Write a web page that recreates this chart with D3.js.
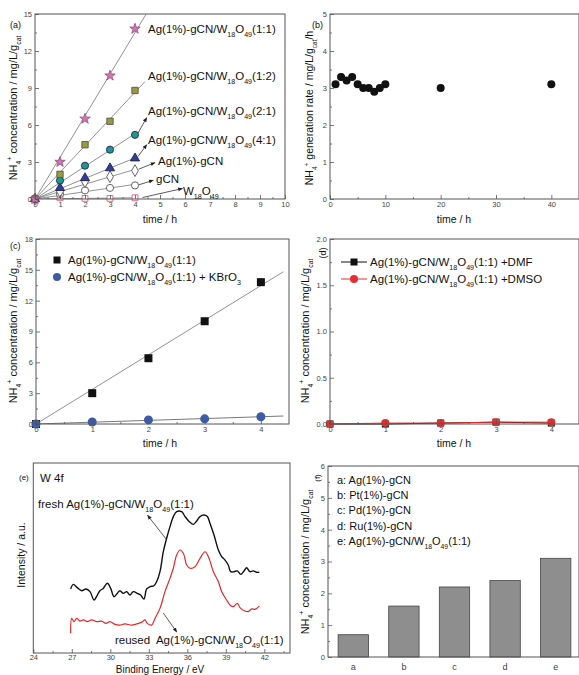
<!DOCTYPE html>
<html><head><meta charset="utf-8">
<script src="https://cdn.jsdelivr.net/npm/d3@7"></script>
<style>body{margin:0;background:#fff} text{font-family:Arial,"Liberation Sans",sans-serif;white-space:pre}</style>
</head><body><svg id="c" width="579" height="675"></svg>
<script>
// ---------------- DATA ----------------
// (a)
const timeA = [0, 1, 2, 3, 4];
const a11 = [0, 3.0, 6.5, 10.0, 13.8];
const a12 = [0, 2.0, 4.4, 6.3, 8.8];
const a21 = [0, 1.5, 2.7, 4.0, 5.2];
const a41 = [0, 0.9, 1.7, 2.5, 3.3];
const aAgCN = [0, 0.6, 1.4, 1.8, 2.3];
const aGCN = [0, 0.4, 0.7, 0.9, 1.1];
const aW = [0, 0.1, 0.05, 0.05, 0.1];
const labelsA = ["Ag(1%)-gCN/W_{18}O_{49}(1:1)", "Ag(1%)-gCN/W_{18}O_{49}(1:2)", "Ag(1%)-gCN/W_{18}O_{49}(2:1)",
  "Ag(1%)-gCN/W_{18}O_{49}(4:1)", "Ag(1%)-gCN", "gCN", "W_{18}O_{49}"];
const xTicksA = [0,1,2,3,4,5,6,7,8,9,10];
const yTicksA = [0,3,6,9,12,15];
// (b)
const timeB = [1,2,3,4,5,6,7,8,9,10,20,40];
const rateB = [3.1,3.3,3.2,3.3,3.1,3.0,3.0,2.9,3.0,3.1,3.0,3.1];
const xTicksB = [0,10,20,30,40];
const yTicksB = [0,1,2,3,4,5];
// (c)
const timeC = [0,1,2,3,4];
const cBase = [0, 3.0, 6.4, 10.0, 13.8];
const cKBrO3 = [0, 0.2, 0.4, 0.5, 0.7];
const labelsC = ["Ag(1%)-gCN/W_{18}O_{49}(1:1)", "Ag(1%)-gCN/W_{18}O_{49}(1:1) + KBrO_{3}"];
const xTicksC = [0,1,2,3,4];
const yTicksC = [0,3,6,9,12,15,18];
// (d)
const timeD = [0,1,2,3,4];
const dDMF = [0, 0.0, 0.01, 0.02, 0.01];
const dDMSO = [0, 0.01, 0.01, 0.02, 0.02];
const labelsD = ["Ag(1%)-gCN/W_{18}O_{49}(1:1) +DMF", "Ag(1%)-gCN/W_{18}O_{49}(1:1) +DMSO"];
const yTicksD = [0, 0.5, 1.0, 1.5, 2.0];
// (e) XPS W 4f
const eFreshX = [26.91,27.12,27.43,27.77,28.10,28.42,28.73,28.99,29.19,29.45,29.77,30.03,30.29,30.55,30.75,31.01,31.27,31.53,31.79,32.10,32.36,32.62,32.83,33.09,33.40,33.61,33.87,34.13,34.39,34.65,34.91,35.17,35.56,35.82,36.16,36.47,36.73,36.99,37.30,37.56,37.77,38.08,38.42,38.68,38.94,39.19,39.38,39.64,39.90,40.16,40.42,40.62,40.88,41.14,41.40,41.61];
const eFreshY = [33.7,36.1,34.4,32.8,33.7,32.3,27.9,30.5,32.8,34.0,36.7,34.0,29.6,31.4,32.8,31.4,32.3,30.5,32.3,31.4,30.5,28.4,33.7,34.9,35.4,37.5,42.8,53.3,60.4,66.5,71.8,74.4,74.4,71.8,69.1,67.7,69.5,71.8,72.6,71.8,68.2,62.1,54.2,50.7,48.9,46.3,42.8,42.8,43.2,41.4,43.2,44.9,42.8,43.2,42.5,42.5];
const eReusedX = [26.91,26.99,27.17,27.38,27.64,27.90,28.21,28.55,28.94,29.32,29.66,29.97,30.36,30.75,31.14,31.66,32.05,32.44,32.70,32.88,33.22,33.48,33.87,34.26,34.65,34.91,35.17,35.43,35.69,35.95,36.21,36.60,36.99,37.38,37.64,38.03,38.42,38.68,39.06,39.32,39.58,39.90,40.10,40.49,40.75,41.01,41.27,41.61];
const eReusedY = [10.4,18.2,16.5,18.2,16.8,17.4,16.5,17.4,16.5,16.8,15.6,16.5,15.1,14.7,15.3,14.7,15.3,16.1,17.4,15.6,14.7,18.2,23.5,32.3,39.3,44.6,51.6,54.2,52.5,46.3,44.6,45.4,49.8,53.3,50.7,42.8,37.5,32.3,27.9,25.3,24.4,26.1,23.9,22.1,21.8,23.2,23.0,24.7];
const xTicksE = [24,27,30,33,36,39,42];
// (f)
const categoriesF = ["a","b","c","d","e"];
const valuesF = [0.7, 1.6, 2.2, 2.4, 3.1];
const legendF = ["a: Ag(1%)-gCN", "b: Pt(1%)-gCN", "c: Pd(1%)-gCN", "d: Ru(1%)-gCN", "e: Ag(1%)-gCN/W_{18}O_{49}(1:1)"];
const yTicksF = [0,1,2,3,4,5,6];

// ---------------- HELPERS ----------------
const svg = d3.select("#c");
const AX = "#555", TICKC = "#555";

function rich(t, str, fs) {
  const parts = str.split(/(_\{[^}]*\}|\^\{[^}]*\})/).filter(p => p);
  let shift = 0;
  parts.forEach(p => {
    let target = 0, txt = p, size = fs;
    if (p.startsWith("_{")) { target = fs * 0.38; txt = p.slice(2, -1); size = fs * 0.62; }
    else if (p.startsWith("^{")) { target = -fs * 0.42; txt = p.slice(2, -1); size = fs * 0.62; }
    t.append("tspan").attr("dy", target - shift).attr("font-size", size).text(txt);
    shift = target;
  });
  return t;
}
function txt(x, y, str, fs, opts = {}) {
  const t = svg.append("text").attr("x", x).attr("y", y).attr("font-size", fs)
    .attr("fill", opts.fill || "#111").attr("text-anchor", opts.anchor || "start");
  if (opts.rot) t.attr("transform", `rotate(${opts.rot},${x},${y})`);
  return rich(t, str, fs);
}
function styleAxis(g) {
  g.select(".domain").remove();
  g.selectAll(".tick line").attr("stroke", TICKC).attr("stroke-width", 0.8);
  g.selectAll(".tick text").attr("font-size", 7.5).attr("fill", "#444")
    .attr("font-family", 'Arial,"Liberation Sans",sans-serif');
}
function minorVals(major) {
  const out = [];
  for (let i = 0; i < major.length - 1; i++) out.push((major[i] + major[i + 1]) / 2);
  out.push(major[major.length - 1] + (major[1] - major[0]) / 2);
  return out;
}
function frame(x, y, opt) {
  const [x0, x1] = x.range(), [y0, y1] = y.range();
  const g = svg.append("g");
  if (opt.xTicks) {
    g.append("g").attr("transform", `translate(0,${y0})`)
      .call(d3.axisBottom(x).tickValues(opt.xTicks).tickSize(-4).tickPadding(opt.xPad || 3).tickFormat(opt.xFmt || d3.format("d")))
      .call(styleAxis);
    g.append("g").attr("transform", `translate(0,${y0})`)
      .call(d3.axisBottom(x).tickValues(minorVals(opt.xTicks).filter(v => x(v) < x1 - 1)).tickSize(-2).tickFormat(""))
      .call(styleAxis);
  }
  if (opt.yTicks) {
    g.append("g").attr("transform", `translate(${x0},0)`)
      .call(d3.axisLeft(y).tickValues(opt.yTicks).tickSize(-4).tickPadding(3).tickFormat(opt.yFmt || d3.format("d")))
      .call(styleAxis);
    g.append("g").attr("transform", `translate(${x0},0)`)
      .call(d3.axisLeft(y).tickValues(minorVals(opt.yTicks).filter(v => y(v) > y1 + 1)).tickSize(-2).tickFormat(""))
      .call(styleAxis);
  }
  g.append("rect").attr("x", x0).attr("y", y1).attr("width", x1 - x0).attr("height", y0 - y1)
    .attr("fill", "none").attr("stroke", AX).attr("stroke-width", 1);
  return g;
}
function clip(id, x, y) {
  const [x0, x1] = x.range(), [y0, y1] = y.range();
  svg.append("clipPath").attr("id", id).append("rect").attr("x", x0).attr("y", y1).attr("width", x1 - x0).attr("height", y0 - y1);
}
// arrow marker
svg.append("defs").append("marker").attr("id", "arr").attr("viewBox", "0 0 10 10").attr("refX", 9).attr("refY", 5)
  .attr("markerWidth", 6).attr("markerHeight", 6).attr("orient", "auto")
  .append("path").attr("d", "M0,1 L10,5 L0,9 Z").attr("fill", "#222");
function arrow(x, y, from, to) {
  svg.append("line").attr("x1", x(from[0])).attr("y1", y(from[1])).attr("x2", x(to[0])).attr("y2", y(to[1]))
    .attr("stroke", "#333").attr("stroke-width", 0.8).attr("marker-end", "url(#arr)");
}
function slopeThroughOrigin(xs, ys) {
  return d3.sum(xs, (v, i) => v * ys[i]) / d3.sum(xs, v => v * v);
}
const yLabel = "NH_{4}^{+} concentration / mg/L/g_{cat}";

// ---------------- PANEL (a) ----------------
{
  const x = d3.scaleLinear().domain([0, 10]).range([35, 285]);
  const y = d3.scaleLinear().domain([0, 15]).range([199, 14]);
  clip("clipA", x, y);
  const series = [
    { v: a11, sym: d3.symbolStar, size: 34, fill: "#c87aae", stroke: "#a8508a", end: 5 },
    { v: a12, sym: d3.symbolSquare, size: 40, fill: "#9c9a3c", stroke: "#555", end: 4.4 },
    { v: a21, sym: d3.symbolCircle, size: 40, fill: "#1f9a86", stroke: "#226", end: 4.05 },
    { v: a41, sym: d3.symbolTriangle, size: 36, fill: "#2f3ea6", stroke: "#223", end: 4.05 },
    { v: aAgCN, sym: d3.symbolDiamond, size: 40, fill: "#fff", stroke: "#555", end: 4.05 },
    { v: aGCN, sym: d3.symbolCircle, size: 40, fill: "#fff", stroke: "#555", end: 4.05 },
    { v: aW, sym: d3.symbolSquare, size: 34, fill: "#fff", stroke: "#e0607e", end: 4.05 }
  ];
  series.forEach(s => {
    const k = slopeThroughOrigin(timeA, s.v);
    svg.append("line").attr("clip-path", "url(#clipA)")
      .attr("x1", x(0)).attr("y1", y(0)).attr("x2", x(s.end)).attr("y2", y(k * s.end))
      .attr("stroke", "#777").attr("stroke-width", 0.8);
  });
  series.slice().reverse().forEach(s => {
    svg.append("g").selectAll("path").data(timeA).join("path")
      .attr("d", d3.symbol(s.sym, s.size))
      .attr("transform", (d, i) => `translate(${x(d)},${y(s.v[i])})`)
      .attr("fill", s.fill).attr("stroke", s.stroke).attr("stroke-width", 0.9);
  });
  const arrowsA = [
    [[4.12, 5.35], [4.47, 6.6]],
    [[4.12, 3.45], [4.47, 4.4]],
    [[4.15, 2.42], [4.8, 2.95]],
    [[4.15, 1.15], [4.73, 1.52]],
    [[4.3, 0.12], [5.9, 0.85]]
  ];
  arrowsA.forEach(a => arrow(x, y, a[0], a[1]));
  frame(x, y, { xTicks: xTicksA, yTicks: yTicksA });
  const lab = [[148, 33], [148, 80], [148, 115], [148, 144], [158, 165], [156, 183], [183, 195]];
  labelsA.forEach((l, i) => txt(lab[i][0], lab[i][1], l, 11.5));
  txt(10, 28, "(a)", 9);
  txt(160, 223, "time / h", 10.5, { anchor: "middle" });
  txt(17, 108, yLabel, 11, { anchor: "middle", rot: -90 });
}

// ---------------- PANEL (b) ----------------
{
  const x = d3.scaleLinear().domain([0, 45]).range([330, 579]);
  const y = d3.scaleLinear().domain([0, 5]).range([199, 14]);
  frame(x, y, { xTicks: xTicksB, yTicks: yTicksB });
  svg.append("g").selectAll("circle").data(timeB).join("circle")
    .attr("cx", d => x(d)).attr("cy", (d, i) => y(rateB[i])).attr("r", 4).attr("fill", "#111");
  txt(312, 28, "(b)", 9);
  txt(454, 223, "time / h", 10.5, { anchor: "middle" });
  txt(313, 108, "NH_{4}^{+} generation rate / mg/L/g_{cat}/h", 10.5, { anchor: "middle", rot: -90 });
}

// ---------------- PANEL (c) ----------------
{
  const x = d3.scaleLinear().domain([0, 4.5]).range([36, 289]);
  const y = d3.scaleLinear().domain([0, 18]).range([424, 239]);
  clip("clipC", x, y);
  [[cBase, "#777"], [cKBrO3, "#555"]].forEach(([v, c]) => {
    const k = slopeThroughOrigin(timeC, v);
    svg.append("line").attr("clip-path", "url(#clipC)")
      .attr("x1", x(0)).attr("y1", y(0)).attr("x2", x(4.4)).attr("y2", y(k * 4.4))
      .attr("stroke", c).attr("stroke-width", 0.8);
  });
  svg.append("g").selectAll("rect").data(timeC).join("rect")
    .attr("x", d => x(d) - 4).attr("y", (d, i) => y(cBase[i]) - 4).attr("width", 8).attr("height", 8).attr("fill", "#111");
  svg.append("g").selectAll("circle").data(timeC).join("circle")
    .attr("cx", d => x(d)).attr("cy", (d, i) => y(cKBrO3[i])).attr("r", 4.5).attr("fill", "#3d5ca8");
  frame(x, y, { xTicks: xTicksC, yTicks: yTicksC });
  svg.append("rect").attr("x", 53.5).attr("y", 256.5).attr("width", 7).attr("height", 7).attr("fill", "#111");
  svg.append("circle").attr("cx", 57).attr("cy", 277).attr("r", 4).attr("fill", "#3d5ca8");
  txt(68, 264, labelsC[0], 11.5);
  txt(68, 281, labelsC[1], 11.5);
  txt(10, 249, "(c)", 9);
  txt(160, 447, "time / h", 10.5, { anchor: "middle" });
  txt(17, 331, yLabel, 11, { anchor: "middle", rot: -90 });
}

// ---------------- PANEL (d) ----------------
{
  const x = d3.scaleLinear().domain([0, 4.5]).range([330, 579]);
  const y = d3.scaleLinear().domain([0, 2]).range([424, 239]);
  const line = d3.line().x((d, i) => x(timeD[i])).y(d => y(d));
  svg.append("path").attr("d", line(dDMF)).attr("fill", "none").attr("stroke", "#111").attr("stroke-width", 1);
  svg.append("path").attr("d", line(dDMSO)).attr("fill", "none").attr("stroke", "#e03030").attr("stroke-width", 1);
  svg.append("g").selectAll("rect").data(timeD).join("rect")
    .attr("x", d => x(d) - 3.5).attr("y", (d, i) => y(dDMF[i]) - 3.5).attr("width", 7).attr("height", 7).attr("fill", "#111");
  svg.append("g").selectAll("circle").data(timeD).join("circle")
    .attr("cx", d => x(d)).attr("cy", (d, i) => y(dDMSO[i])).attr("r", 4).attr("fill", "#e03030");
  frame(x, y, { xTicks: xTicksC, yTicks: yTicksD, yFmt: d3.format(".1f") });
  svg.append("line").attr("x1", 341).attr("x2", 367).attr("y1", 262).attr("y2", 262).attr("stroke", "#111");
  svg.append("rect").attr("x", 350.5).attr("y", 258.5).attr("width", 7).attr("height", 7).attr("fill", "#111");
  svg.append("line").attr("x1", 341).attr("x2", 367).attr("y1", 279).attr("y2", 279).attr("stroke", "#e03030");
  svg.append("circle").attr("cx", 354).attr("cy", 279).attr("r", 4).attr("fill", "#e03030");
  txt(370, 266, labelsD[0], 11.5);
  txt(370, 283, labelsD[1], 11.5);
  txt(326, 253, "(d)", 9, { anchor: "middle", rot: -90 });
  txt(454, 447, "time / h", 10.5, { anchor: "middle" });
  txt(309, 331, yLabel, 11, { anchor: "middle", rot: -90 });
}

// ---------------- PANEL (e) ----------------
{
  const x = d3.scaleLinear().domain([24, 44]).range([33.3, 290]);
  const y = d3.scaleLinear().domain([0, 100]).range([653, 463]);
  const line = (xs, ys) => d3.line().x((d, i) => x(xs[i])).y(d => y(d)).curve(d3.curveCatmullRom)(ys);
  svg.append("path").attr("d", line(eFreshX, eFreshY)).attr("fill", "none").attr("stroke", "#111").attr("stroke-width", 1.4);
  svg.append("path").attr("d", line(eReusedX, eReusedY)).attr("fill", "none").attr("stroke", "#e02a2a").attr("stroke-width", 1.2);
  frame(x, y, { xTicks: xTicksE, xPad: 2 });
  arrow(x, y, [34.4, 59.5], [32.9, 72.5]);
  arrow(x, y, [34.13, 21], [35.18, 11]);
  txt(19, 480, "(e)", 8);
  txt(40, 482, "W 4f", 11.5);
  txt(38, 508, "fresh Ag(1%)-gCN/W_{18}O_{49}(1:1)", 11.5);
  txt(115, 644, "reused  Ag(1%)-gCN/W_{18}O_{49}(1:1)", 11.5);
  txt(160, 672.5, "Binding Energy / eV", 10, { anchor: "middle" });
  txt(25, 555, "Intensity / a.u.", 10.5, { anchor: "middle", rot: -90 });
}

// ---------------- PANEL (f) ----------------
{
  const x = d3.scaleBand().domain(categoriesF).range([328, 581]).paddingInner(0.4).paddingOuter(0.2);
  const y = d3.scaleLinear().domain([0, 6]).range([657, 466]);
  svg.append("g").selectAll("rect").data(categoriesF).join("rect")
    .attr("x", d => x(d)).attr("y", (d, i) => y(valuesF[i])).attr("width", x.bandwidth())
    .attr("height", (d, i) => y(0) - y(valuesF[i])).attr("fill", "#8e8e8e").attr("stroke", "#444").attr("stroke-width", 0.8);
  const xl = d3.scaleLinear().domain([0, 1]).range([328, 579]);
  frame(xl, y, { yTicks: yTicksF });
  svg.append("g").attr("transform", "translate(0,657)")
    .call(d3.axisBottom(x).tickSize(0).tickPadding(7)).call(styleAxis)
    .selectAll("text").attr("font-size", 9);
  legendF.forEach((l, i) => txt(337, 484 + i * 15.2, l, 11));
  txt(320, 478, "(f)", 8, { anchor: "middle", rot: -90 });
  txt(309, 562, yLabel, 11, { anchor: "middle", rot: -90 });
}
</script></body></html>
